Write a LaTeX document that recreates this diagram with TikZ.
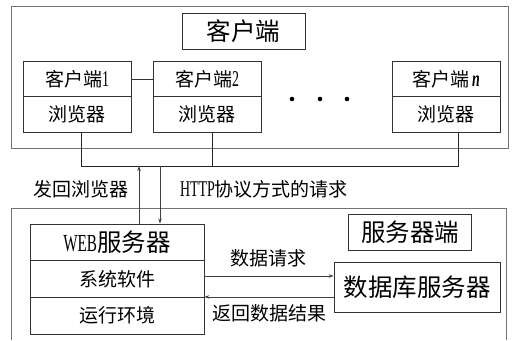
\documentclass[tikz,border=0pt]{standalone}
\usepackage{fontspec}
\setmainfont[FakeStretch=0.62]{Liberation Serif}
\newfontfamily\cjk{Noto Sans CJK SC}
\usetikzlibrary{arrows.meta}
\newcommand\bigfs{\fontsize{24.5}{25}\selectfont}
\newcommand\smfs{\fontsize{19}{20}\selectfont}
\newcommand\lat[1]{{\fontsize{22.5}{20}\selectfont #1}}
\tikzset{
  cell/.style={draw=black!80,line width=0.8pt,minimum width=108pt,minimum height=35.5pt,inner sep=0pt,font=\smfs},
  titlebox/.style={draw=black!80,line width=0.8pt,minimum width=123pt,minimum height=36pt,inner sep=0pt,font=\bigfs},
  webcell/.style={cell,minimum width=174pt,minimum height=36.7pt},
  frame/.style={draw=black!55,line width=0.8pt},
  arr/.style={draw=black!75,line width=0.7pt,-{Stealth[length=5pt,width=3.5pt]}}
}
\begin{document}
\begin{tikzpicture}[x=1pt,y=-1pt]
	\fill[white] (0,0) rectangle (516,340);
	\useasboundingbox (0,0) rectangle (516,340);

	% client side
	\draw[frame] (11,6) rectangle (508,148);
	\node[titlebox] (ctitle) at (243.5,31) {\cjk 客户端};
	\node[cell] (c1) at (77,79) {{\cjk 客户端}\lat{1}};
	\node[cell] (b1) at (77,114.5) {\cjk 浏览器};
	\node[cell] (c2) at (207,79) {{\cjk 客户端}\lat{2}};
	\node[cell] (b2) at (207,114.5) {\cjk 浏览器};
	\node[cell] (cn) at (446,79) {{\cjk 客户端}\,\lat{\textbf{\textit{n}}}};
	\node[cell] (bn) at (446,114.5) {\cjk 浏览器};
	\draw[black!80,line width=0.8pt] (c1.east) -- (c2.west);
	\foreach \x in {292,320,347}
		\fill (\x,99) circle (2.3pt);

	% bus
	\coordinate (busL) at (81,166);
	\coordinate (bus2) at (212,166);
	\coordinate (busR) at (458,166);
	\draw[black!85,line width=0.8pt] (b1.south -| busL) -- (busL) -- (busR) -- (bn.south -| busR);
	\draw[black!85,line width=0.8pt] (b2.south -| bus2) -- (bus2);

	% server side
	\draw[frame] (11,340) -- (11,208) -- (506,208) -- (506,340);
	\node[titlebox] (stitle) at (410,232) {\cjk 服务器端};
	\node[webcell,font=\bigfs] (web) at (117,242.3) {WEB{\cjk 服务器}};
	\node[webcell] (sys) at (117,279) {\cjk 系统软件};
	\node[webcell] (env) at (117,315.7) {\cjk 运行环境};
	\node[draw=black!80,line width=0.8pt,minimum width=166pt,minimum height=50pt,inner sep=0pt,font=\bigfs] (db) at (417,287) {\cjk 数据库服务器};

	% requests
	\coordinate (up) at (139,166);
	\coordinate (dn) at (160,166);
	\draw[arr] (web.north -| up) -- (up);
	\draw[arr] (dn) -- (web.north -| dn);
	\node[font=\smfs] (back) at (81,189) {\cjk 发回浏览器};
	\node[font=\smfs] (http) at (264,189) {\lat{HTTP}{\cjk 协议方式的请求}};

	\draw[arr] ([yshift=3pt]sys.east) -- ([yshift=3pt]sys.east -| db.west);
	\draw[arr] (env.north east -| db.west) -- (env.north east);
	\node[font=\smfs] (req) at (268,258) {\cjk 数据请求};
	\node[font=\smfs] (res) at (269,313) {\cjk 返回数据结果};
\end{tikzpicture}
\end{document}
